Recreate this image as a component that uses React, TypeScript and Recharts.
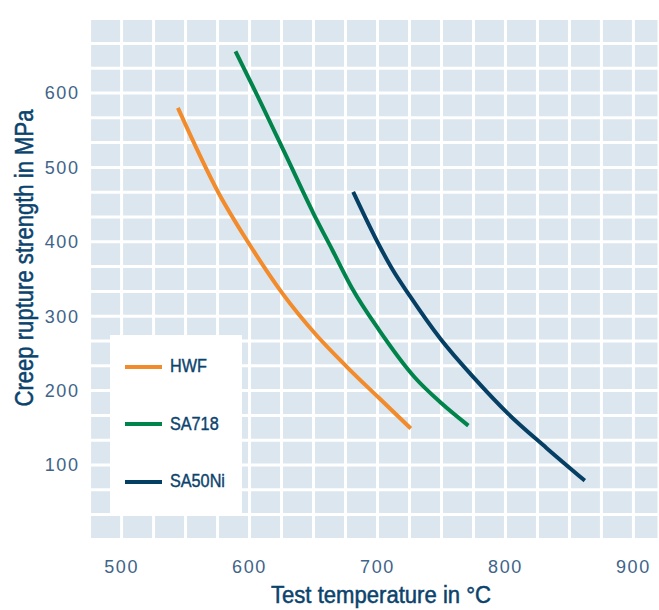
import React from 'react';
import { LineChart, Line, XAxis, YAxis, CartesianGrid, Legend } from 'recharts';

// Series data (temperature °C, creep rupture strength MPa)
const hwfTemp = [544, 576, 599, 613, 626, 652, 676, 700, 726];
const hwfStrength = [580, 465, 399, 362, 330, 275, 232, 192, 149];

const sa718Temp = [589, 604, 629, 650, 665, 680, 701, 729, 750, 771];
const sa718Strength = [656, 604, 514, 438, 388, 338, 282, 218, 183, 153];

const sa50Temp = [681, 702, 712, 725, 749, 776, 802, 832, 862];
const sa50Strength = [467, 393, 362, 328, 270, 216, 169, 123, 79];

const seriesNames = ['HWF', 'SA718', 'SA50Ni'];
const seriesColors = ['#f28b2c', '#00844b', '#063f64'];

// Axes
const xTickLabels = [500, 600, 700, 800, 900];
const yTickLabels = [100, 200, 300, 400, 500, 600];
const xDomain = [475, 920];
const yDomain = [0, 700];
const xGridStep = 25;
const yGridSteps = 21; // 700 / (100/3)

const xTicks: number[] = [];
for (let v = xDomain[0]; v <= xDomain[1]; v += xGridStep) xTicks.push(v);
const yTicks: number[] = [];
for (let k = 0; k <= yGridSteps; k++) yTicks.push((k * 100) / 3);

const toPoints = (t: number[], s: number[]) => t.map((v, i) => ({ t: v, s: s[i] }));
const series = [
  toPoints(hwfTemp, hwfStrength),
  toPoints(sa718Temp, sa718Strength),
  toPoints(sa50Temp, sa50Strength),
];

const TITLE_COLOR = '#0b436d';
const TICK_COLOR = '#3f6489';
const FONT = '"Liberation Sans", Arial, sans-serif';

const renderLegend = (props: any) => {
  const payload = [...(props.payload || [])].sort(
    (a: any, b: any) => seriesNames.indexOf(a.value) - seriesNames.indexOf(b.value)
  );
  return (
    <div
      style={{
        width: 132,
        height: 180,
        background: '#ffffff',
        boxSizing: 'border-box',
        paddingTop: 3,
      }}
    >
      {payload.map((p: any) => (
        <div
          key={p.value}
          style={{ height: 57.5, display: 'flex', alignItems: 'center' }}
        >
          <div
            style={{
              marginLeft: 15,
              width: 37,
              height: 4,
              background: p.color,
            }}
          />
          <span
            style={{
              marginLeft: 8,
              fontFamily: FONT,
              fontSize: 18,
              color: TITLE_COLOR,
              display: 'inline-block',
              transform: 'scaleX(0.9)',
              transformOrigin: 'left center',
              whiteSpace: 'nowrap',
              WebkitTextStroke: '0.4px ' + TITLE_COLOR,
            }}
          >
            {p.value}
          </span>
        </div>
      ))}
    </div>
  );
};

export default function App() {
  return (
    <div style={{ position: 'absolute', left: 0, top: 0 }}>
      <LineChart
        width={659}
        height={610}
        margin={{ top: 18.6, right: 0, bottom: 0, left: 0 }}
      >
        <CartesianGrid
          stroke="#ffffff"
          strokeWidth={3}
          fill="#dce6ee"
          fillOpacity={1}
        />
        <XAxis
          type="number"
          dataKey="t"
          domain={xDomain}
          ticks={xTicks}
          allowDataOverflow
          interval={0}
          height={70.6}
          axisLine={false}
          tickLine={false}
          tickSize={6}
          tickMargin={15}
          tickFormatter={(v: number) => (xTickLabels.includes(v) ? String(v) : '')}
          tick={{ fill: TICK_COLOR, fontSize: 18, fontFamily: FONT, letterSpacing: 1.6 }}
          label={{
            content: () => (
              <text
                x={381}
                y={603}
                textAnchor="middle"
                fill={TITLE_COLOR}
                stroke={TITLE_COLOR}
                strokeWidth={0.5}
                fontFamily={FONT}
                fontSize={23}
                textLength={220}
                lengthAdjust="spacingAndGlyphs"
              >
                Test temperature in °C
              </text>
            ),
          }}
        />
        <YAxis
          type="number"
          domain={yDomain}
          ticks={yTicks}
          allowDataOverflow
          interval={0}
          width={89.6}
          axisLine={false}
          tickLine={false}
          tickSize={6}
          tickMargin={4}
          tickFormatter={(v: number) =>
            yTickLabels.some((l) => Math.abs(l - v) < 1e-6) ? String(Math.round(v)) : ''
          }
          tick={{ fill: TICK_COLOR, fontSize: 18, fontFamily: FONT, letterSpacing: 1.6 }}
          label={{
            content: () => (
              <text
                x={33}
                y={258}
                transform="rotate(-90 33 258)"
                textAnchor="middle"
                fill={TITLE_COLOR}
                stroke={TITLE_COLOR}
                strokeWidth={0.5}
                fontFamily={FONT}
                fontSize={25}
                textLength={297}
                lengthAdjust="spacingAndGlyphs"
              >
                Creep rupture strength in MPa
              </text>
            ),
          }}
        />
        {series.map((d, i) => (
          <Line
            key={seriesNames[i]}
            name={seriesNames[i]}
            data={d}
            dataKey="s"
            type="monotone"
            stroke={seriesColors[i]}
            strokeWidth={4}
            dot={false}
            activeDot={false}
            isAnimationActive={false}
          />
        ))}
        <Legend
          layout="vertical"
          align="center"
          verticalAlign="middle"
          wrapperStyle={{ left: 110, top: 335, width: 132, height: 180 }}
          content={renderLegend}
        />
      </LineChart>
    </div>
  );
}
